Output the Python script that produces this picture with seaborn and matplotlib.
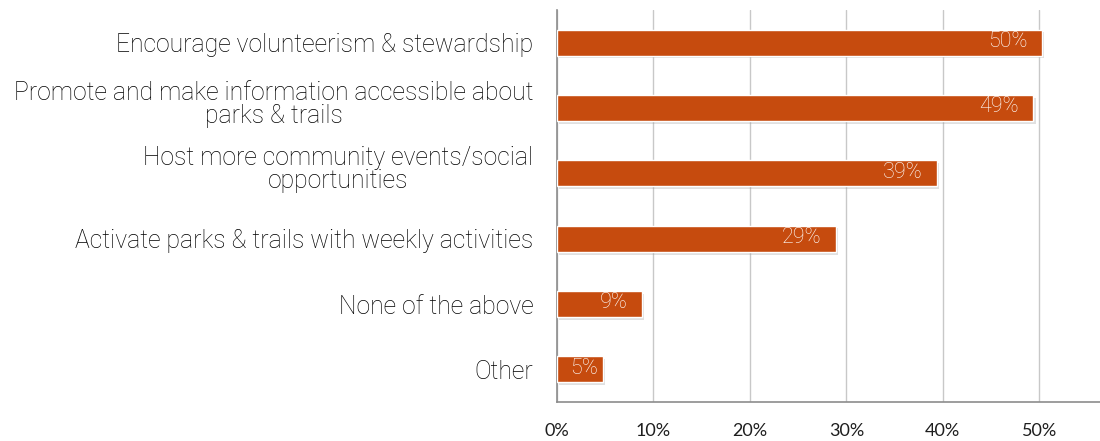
import matplotlib
matplotlib.use("Agg")
import matplotlib.pyplot as plt
import matplotlib.patheffects as pe
import matplotlib.transforms as mtransforms
from matplotlib.ticker import FixedLocator, PercentFormatter
import numpy as np
import pandas as pd
import seaborn as sns

categories = [
    "Encourage volunteerism & stewardship",
    "Promote and make information accessible about\nparks & trails",
    "Host more community events/social\nopportunities",
    "Activate parks & trails with weekly activities",
    "None of the above",
    "Other",
]
shares = [50.3, 49.4, 39.4, 28.9, 8.8, 4.8]
x_ticks = [0, 10, 20, 30, 40, 50]

sns.set_theme(style="white")
plt.rcParams["font.family"] = ["Roboto", "DejaVu Sans"]

bar_color = "#C64B0E"
grid_color = "#C8C8C8"
axis_color = "#8C8C8C"

df = pd.DataFrame({"category": categories, "share": shares})

fig = plt.figure(figsize=(11, 4.41), dpi=100)
ax = fig.add_axes([0.5064, 0.0884, 0.4936, 0.889])

sns.barplot(data=df, x="share", y="category", orient="h", color=bar_color,
            width=0.4, saturation=1, ax=ax, zorder=3)

for patch in ax.patches:
    patch.set_path_effects([
        pe.SimplePatchShadow(offset=(1.5, -2), shadow_rgbFace="#9A9A9A", alpha=0.3),
        pe.Normal(),
    ])

# value labels inside bar ends; short bars get a tighter inset
for i, v in enumerate(shares):
    inset = 1.5 if v > 6 else 0.6
    ax.text(v - inset, i - 0.02, f"{v:.0f}%", ha="right", va="center", color="white",
            fontsize=15.5, fontweight="light", zorder=5)

ax.set_xlim(0, 56.3)
ax.set_ylim(len(categories) - 0.5, -0.5)
ax.xaxis.set_major_locator(FixedLocator(x_ticks))
ax.xaxis.set_major_formatter(PercentFormatter(decimals=0))
ax.grid(axis="x", color=grid_color, linewidth=1.0, zorder=0)
ax.grid(axis="y", visible=False)

for s in ["top", "right"]:
    ax.spines[s].set_visible(False)
for s in ["left", "bottom"]:
    ax.spines[s].set_color(axis_color)
    ax.spines[s].set_linewidth(1.2)

ax.set_xlabel("")
ax.set_ylabel("")

# category ticks at band boundaries, labels at centres
ax.tick_params(axis="y", which="major", length=0, pad=17, labelsize=17.8,
               labelcolor="#000000")
ax.yaxis.set_minor_locator(FixedLocator(np.arange(-0.5, len(categories), 1)))
ax.tick_params(axis="y", which="minor", length=6, width=1.2, color=axis_color,
               direction="out")
lift = mtransforms.ScaledTranslation(0, 4 / 72, fig.dpi_scale_trans)
for lbl in ax.get_yticklabels():
    lbl.set_fontweight("light")
    lbl.set_multialignment("center")
    lbl.set_linespacing(0.95)
    if "\n" in lbl.get_text():
        lbl.set_transform(lbl.get_transform() + lift)

ax.tick_params(axis="x", which="major", length=6, width=1.2, color=axis_color,
               direction="out", labelsize=13, labelcolor="#1E1E1E", pad=9)
for lbl in ax.get_xticklabels():
    lbl.set_family(["Lato", "DejaVu Sans"])

fig.savefig("out.png", dpi=100)
